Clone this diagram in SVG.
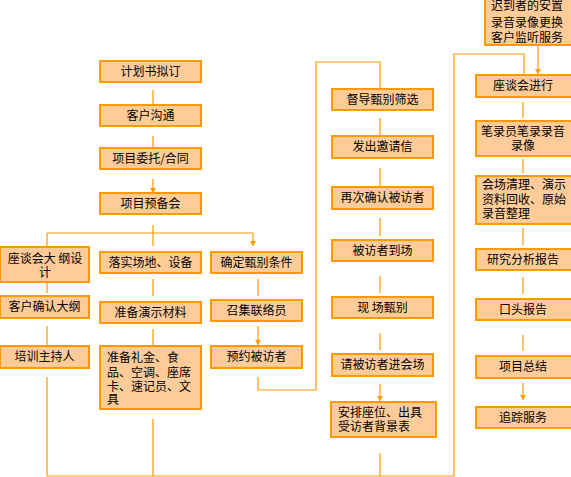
<svg xmlns="http://www.w3.org/2000/svg" width="571" height="477" viewBox="0 0 571 477">
<style>
.b{fill:#FFCC99;stroke:#FF9900;stroke-width:2}
.t{font-family:"Noto Sans CJK SC","Liberation Sans",sans-serif;font-size:12px;fill:#000}
.c{text-anchor:middle}
.l{fill:none;stroke:#FF9900;stroke-width:1.2}
.a{fill:none;stroke:#FF9900;stroke-width:1.2;marker-end:url(#ah)}
</style>
<defs>
<marker id="ah" markerUnits="userSpaceOnUse" markerWidth="7" markerHeight="7" refX="5" refY="3" orient="auto"><path d="M0,0 L5,3 L0,6 z" fill="#FF9900"/></marker>
</defs>
<rect width="571" height="477" fill="#fff"/>
<g id="connectors">
<path class="a" d="M153,90V104M153,136V148M153,179V193"/>
<path class="l" d="M153,225V233M47,233H253"/>
<path class="a" d="M47,233V246M153,233V246M253,233V246"/>
<path class="a" d="M47,282V293M47,326V345M153,279V296M153,329V345M258,279V296M258,326V345"/>
<path class="l" d="M258,377V390H316V62H380V89"/>
<path class="a" d="M380,118V135M380,168V186M380,218V236M380,276V293M380,333V350M380,384V401"/>
<path class="l" d="M47,377V476H454V54H524V60M153,419V476M380,453V476"/>
<path class="a" d="M524,60V74M538,46V74"/>
<path class="a" d="M523,102V118M523,159V173M523,228V245M523,277V294M523,335V351M523,383V400"/>
</g>
<g id="n1"><rect class="b" x="100" y="61" width="101" height="21"/><text class="t c" x="150.5" y="76">计划书拟订</text></g>
<g id="n2"><rect class="b" x="100" y="105" width="101" height="21"/><text class="t c" x="150.5" y="120">客户沟通</text></g>
<g id="n3"><rect class="b" x="100" y="148" width="101" height="21"/><text class="t c" x="150.5" y="163">项目委托/合同</text></g>
<g id="n4"><rect class="b" x="100" y="193" width="101" height="21"/><text class="t c" x="150.5" y="208">项目预备会</text></g>
<g id="n5"><rect class="b" x="0" y="247" width="89" height="35"/><text class="t c" x="45" y="263">座谈会大 纲设</text><text class="t c" x="45" y="277">计</text></g>
<g id="n6"><rect class="b" x="0" y="296" width="89" height="22"/><text class="t c" x="44.5" y="311">客户确认大纲</text></g>
<g id="n7"><rect class="b" x="0" y="346" width="89" height="22"/><text class="t c" x="44.5" y="361">培训主持人</text></g>
<g id="n8"><rect class="b" x="100" y="252" width="101" height="21"/><text class="t c" x="150.5" y="267">落实场地、设备</text></g>
<g id="n9"><rect class="b" x="100" y="302" width="101" height="21"/><text class="t c" x="150.5" y="317">准备演示材料</text></g>
<g id="n10"><rect class="b" x="100" y="346" width="101" height="63"/><text class="t" x="107" y="362">准备礼金、食</text><text class="t" x="107" y="376.5">品、空调、座席</text><text class="t" x="107" y="390.5">卡、速记员、文</text><text class="t" x="107" y="404">具</text></g>
<g id="n11"><rect class="b" x="211" y="252" width="91" height="21"/><text class="t c" x="256.5" y="267">确定甄别条件</text></g>
<g id="n12"><rect class="b" x="211" y="300" width="91" height="21"/><text class="t c" x="256.5" y="315">召集联络员</text></g>
<g id="n13"><rect class="b" x="211" y="346" width="91" height="22"/><text class="t c" x="256.5" y="361">预约被访者</text></g>
<g id="n14"><rect class="b" x="332" y="89" width="101" height="21"/><text class="t c" x="382.5" y="104">督导甄别筛选</text></g>
<g id="n15"><rect class="b" x="332" y="136" width="101" height="22"/><text class="t c" x="382.5" y="151">发出邀请信</text></g>
<g id="n16"><rect class="b" x="332" y="187" width="101" height="22"/><text class="t c" x="382.5" y="202">再次确认被访者</text></g>
<g id="n17"><rect class="b" x="332" y="240" width="101" height="21"/><text class="t c" x="382.5" y="255">被访者到场</text></g>
<g id="n18"><rect class="b" x="332" y="297" width="101" height="21"/><text class="t c" x="382.5" y="312">现 场甄别</text></g>
<g id="n19"><rect class="b" x="332" y="354" width="101" height="22"/><text class="t c" x="382.5" y="369">请被访者进会场</text></g>
<g id="n20"><rect class="b" x="331" y="402" width="105" height="35"/><text class="t" x="338" y="417">安排座位、出具</text><text class="t" x="338" y="431">受访者背景表</text></g>
<g id="n21"><rect class="b" x="485" y="-2" width="87" height="47"/><text class="t c" x="527" y="10">迟到者的安置</text><text class="t c" x="527" y="27">录音录像更换</text><text class="t c" x="527" y="42">客户监听服务</text></g>
<g id="n22"><rect class="b" x="476" y="75" width="96" height="22"/><text class="t c" x="523" y="90">座谈会进行</text></g>
<g id="n23"><rect class="b" x="476" y="121" width="96" height="35"/><text class="t c" x="523" y="136">笔录员笔录录音</text><text class="t c" x="523" y="150">录像</text></g>
<g id="n24"><rect class="b" x="476" y="176" width="96" height="48"/><text class="t" x="482" y="189">会场清理、演示</text><text class="t" x="482" y="204">资料回收、原始</text><text class="t" x="482" y="218">录音整理</text></g>
<g id="n25"><rect class="b" x="476" y="249" width="96" height="21"/><text class="t c" x="523" y="264">研究分析报告</text></g>
<g id="n26"><rect class="b" x="476" y="299" width="96" height="21"/><text class="t c" x="523" y="314">口头报告</text></g>
<g id="n27"><rect class="b" x="476" y="356" width="96" height="22"/><text class="t c" x="523" y="371">项目总结</text></g>
<g id="n28"><rect class="b" x="476" y="407" width="96" height="21"/><text class="t c" x="523" y="422">追踪服务</text></g>
</svg>
